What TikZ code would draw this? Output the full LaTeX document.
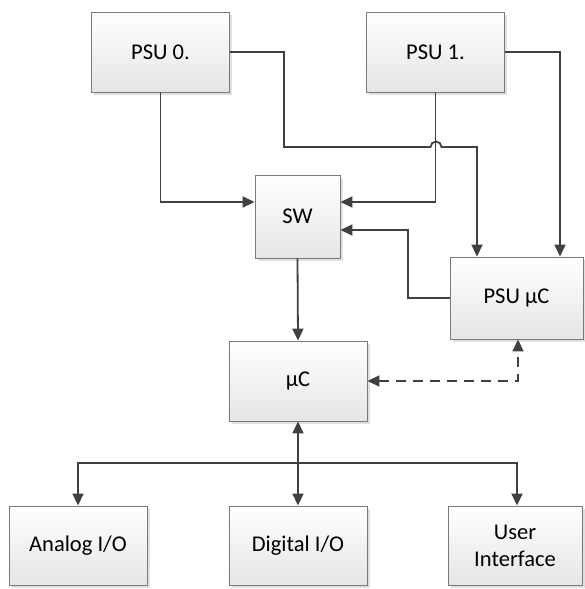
\documentclass[tikz,border=0pt]{standalone}
\usepackage{fontspec}
\setmainfont{Carlito}
\usetikzlibrary{arrows.meta,shadows}
\definecolor{wire}{HTML}{404040}
\definecolor{frame}{HTML}{7A7A7A}
\tikzset{
  block/.style={draw=frame, line width=0.9pt, top color=white, bottom color=black!10,
    minimum width=#1, inner sep=0pt, align=center,
    font=\fontsize{22.5}{27}\selectfont,
    drop shadow={shadow xshift=2.5pt, shadow yshift=-2.5pt, fill=black, opacity=0.12}},
  block/.default=138pt,
  wirestyle/.style={draw=wire, line width=1.8pt},
  tip/.style={-{Triangle[length=12pt,width=11pt]}},
  bothtips/.style={{Triangle[length=12pt,width=11pt]}-{Triangle[length=12pt,width=11pt]}},
}
\begin{document}
\begin{tikzpicture}[x=1pt,y=-1pt]
  \useasboundingbox (0,0) rectangle (585,589);

  % blocks
  \node[block, minimum height=80pt] (psu0) at (160.5,52) {PSU 0.};
  \node[block, minimum height=80pt] (psu1) at (435.5,52) {PSU 1.};
  \node[block=85pt, minimum height=83pt] (sw) at (297.5,216.5) {SW};
  \node[block=133pt, minimum height=82pt] (psuuc) at (516.5,298) {PSU µC};
  \node[block, minimum height=80pt] (uc) at (298,381) {µC};
  \node[block, minimum height=79pt] (ana) at (78,545.5) {Analog I/O};
  \node[block, minimum height=79pt] (dig) at (298,545.5) {Digital I/O};
  \node[block=134pt, minimum height=79pt] (ui) at (515,545.5) {User\\Interface};

  % routing points
  \coordinate (bus) at (298,463);

  % supplies to the switch
  \draw[wirestyle, tip] (psu0.south) |- (sw.west |- 0,202);
  \draw[wirestyle, tip] (psu1.south) |- (sw.east |- 0,202);

  % supplies to the supervisor, with a hop over the PSU 1 line
  \draw[wirestyle, tip, rounded corners=0pt] (psu0.east) -- (284,52) -- (284,147)
    -- (430.5,147) arc[start angle=180, end angle=0, radius=5.5pt]
    -- (477,147) -- (psuuc.north -| 477,0);
  \draw[wirestyle, tip] (psu1.east) -| (psuuc.north -| 560,0);

  % supervisor controls the switch
  \draw[wirestyle, tip] (psuuc.west) -- (408,298) |- (sw.east |- 0,230);

  % switch feeds the controller
  \draw[wirestyle, tip] (sw.south) -- (uc.north);

  % link between controller and supervisor
  \draw[wirestyle, bothtips, dash pattern=on 10pt off 7pt]
    (uc.east) -| (psuuc.south -| 518,0);

  % I/O bus
  \draw[wirestyle, bothtips] (uc.south) -- (dig.north);
  \draw[wirestyle, tip] (bus) -| (ana.north);
  \draw[wirestyle, tip] (bus) -| (ui.north -| 517,0);
\end{tikzpicture}
\end{document}
